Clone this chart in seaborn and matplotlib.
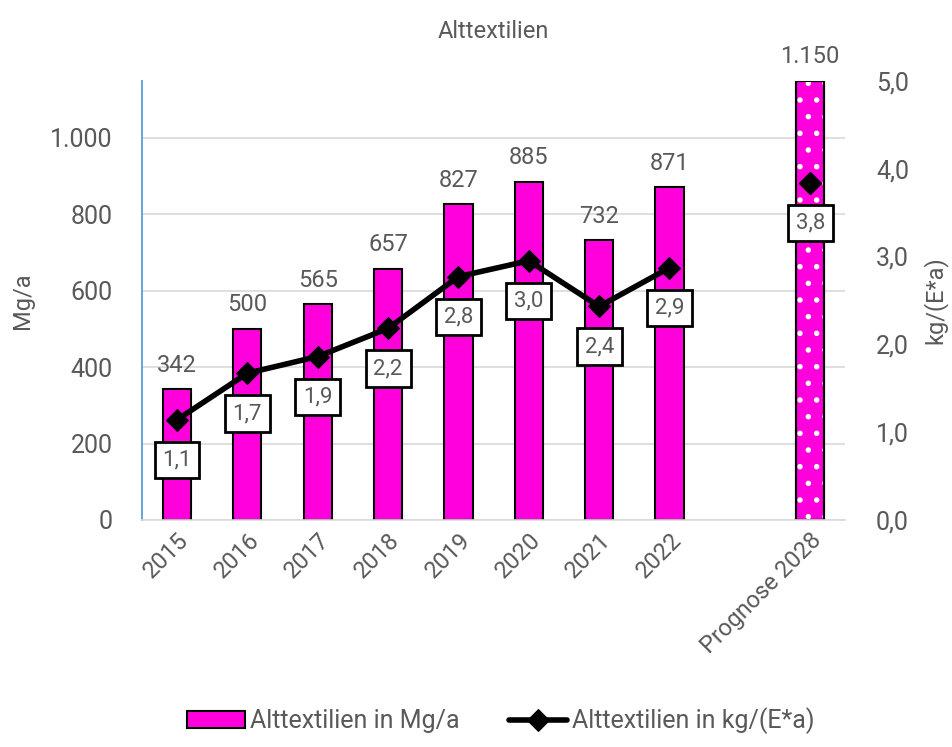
import numpy as np
import pandas as pd
import matplotlib
matplotlib.use("Agg")
import matplotlib.pyplot as plt
import seaborn as sns

# Data
categories = ["2015", "2016", "2017", "2018", "2019", "2020", "2021", "2022", " ", "Prognose 2028"]
mg_per_year = [342, 500, 565, 657, 827, 885, 732, 871, np.nan, 1150]
kg_per_person = [1.14, 1.67, 1.86, 2.18, 2.77, 2.95, 2.43, 2.87, np.nan, 3.84]

bar_label = "Alttextilien in Mg/a"
line_label = "Alttextilien in kg/(E*a)"

magenta = "#FF00DD"
grey_txt = "#595959"

sns.set_theme(style="white")
plt.rcParams["font.family"] = ["Roboto", "DejaVu Sans"]
plt.rcParams["hatch.linewidth"] = 1.5

df = pd.DataFrame({"Jahr": categories, "Mg": mg_per_year, "kg": kg_per_person})
df["pos"] = np.arange(len(df))

fig = plt.figure(figsize=(9.52, 7.47), dpi=100)
ax = fig.add_axes([0.149, 0.304, 0.739, 0.588])

sns.barplot(data=df, x="Jahr", y="Mg", order=categories, color=magenta, saturation=1,
            width=0.4, edgecolor="black", linewidth=1.5, ax=ax, label=bar_label)

# dotted pattern on the forecast bar
prog = df.iloc[-1]
ax.bar(prog["pos"], prog["Mg"], width=0.4, fill=False, hatch=".", edgecolor="white", linewidth=0.5)
ax.bar(prog["pos"], prog["Mg"], width=0.4, fill=False, edgecolor="black", linewidth=1.5)

ax.set_ylim(0, 1150)
ax.set_xlim(-0.5, len(categories) - 0.5)
ax.set_yticks(range(0, 1001, 200))
ax.set_yticklabels([f"{t:,}".replace(",", ".") for t in range(0, 1001, 200)])
ax.yaxis.grid(True, color="#D9D9D9", linewidth=1.2)
ax.set_axisbelow(True)
for s in ["top", "right"]:
    ax.spines[s].set_visible(False)
ax.spines["left"].set_color("#5B9BD5")
ax.spines["left"].set_linewidth(1.3)
ax.spines["bottom"].set_color("#D9D9D9")
ax.spines["bottom"].set_linewidth(1.2)
ax.tick_params(axis="y", length=0, labelsize=18, colors=grey_txt, pad=21)
ax.tick_params(axis="x", length=0, labelsize=17, colors=grey_txt, pad=6)
ax.set_xticks(df["pos"])
ax.set_xticklabels(categories, rotation=45, ha="right", rotation_mode="anchor")
ax.set_xlabel("")
ax.set_ylabel("Mg/a", fontsize=17, color=grey_txt, labelpad=12)
ax.set_title("Alttextilien", fontsize=17, color=grey_txt, pad=31)

for i, v in zip(df["pos"], df["Mg"]):
    if np.isnan(v):
        continue
    ax.annotate(f"{v:,.0f}".replace(",", "."), (i, v), xytext=(0, 9), textcoords="offset points",
                ha="center", va="bottom", fontsize=17, color=grey_txt)

# secondary axis: kg per inhabitant
ax2 = ax.twinx()
main = df.iloc[:8]
sns.lineplot(data=main, x="pos", y="kg", color="black", linewidth=4, marker="D", markersize=11,
             markeredgecolor="black", ax=ax2, label=line_label)
ax2.plot(prog["pos"], prog["kg"], marker="D", markersize=11, color="black", linestyle="none")
ax2.set_ylim(0, 5.0)
ax2.set_yticks(np.arange(0, 5.01, 1.0))
ax2.set_yticklabels([f"{t:.1f}".replace(".", ",") for t in np.arange(0, 5.01, 1.0)])
ax2.tick_params(axis="y", length=0, labelsize=18, colors=grey_txt, pad=22)
ax2.set_ylabel("kg/(E*a)", fontsize=17, color=grey_txt, labelpad=10)
ax2.set_xlabel("")
for s in ax2.spines.values():
    s.set_visible(False)
ax2.grid(False)
if ax2.get_legend():
    ax2.get_legend().remove()

for i, v in zip(df["pos"], df["kg"]):
    if np.isnan(v):
        continue
    ax2.annotate(f"{v:.1f}".replace(".", ","), (i, v), xytext=(0, -29), textcoords="offset points",
                 ha="center", va="center", fontsize=16, color=grey_txt,
                 bbox=dict(boxstyle="square,pad=0.35", facecolor="white", edgecolor="black", linewidth=2))

h1, l1 = ax.get_legend_handles_labels()
h2, l2 = ax2.get_legend_handles_labels()
if ax.get_legend():
    ax.get_legend().remove()
fig.legend(h1[:1] + h2[:1], [bar_label, line_label], loc="center", bbox_to_anchor=(0.526, 0.035),
           ncol=2, frameon=False, fontsize=18, labelcolor=grey_txt, handlelength=2.3,
           handletextpad=0.2, columnspacing=2.0)

fig.savefig("out.png", dpi=100)
